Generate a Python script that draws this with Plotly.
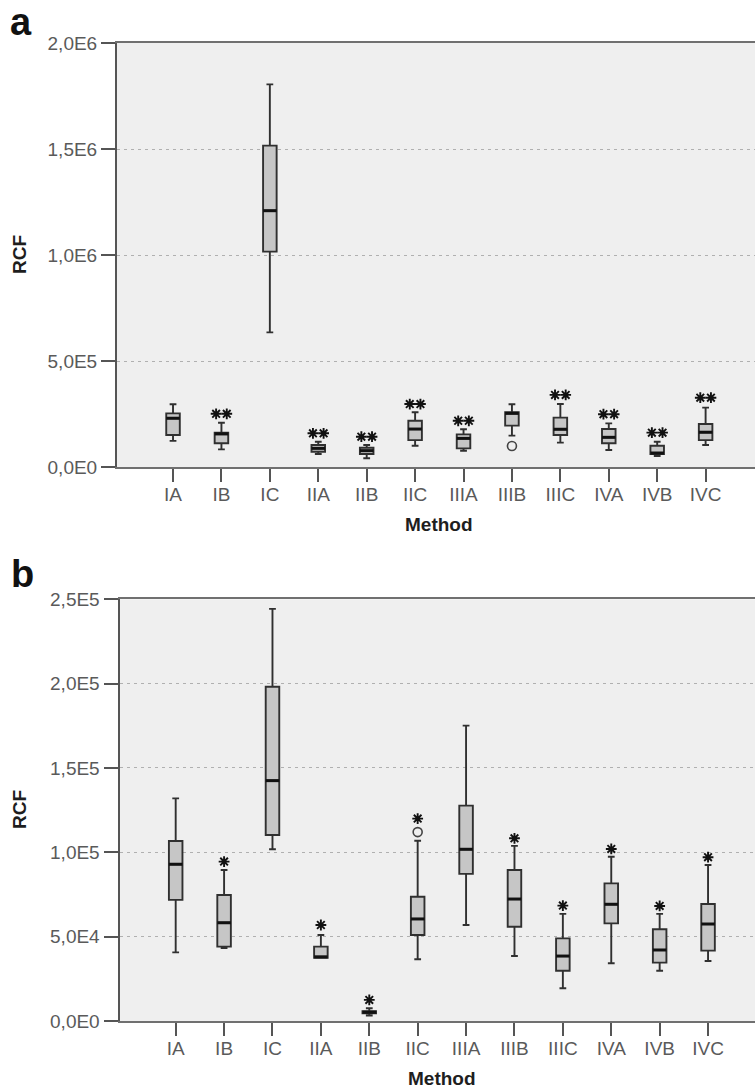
import plotly.graph_objects as go

# ---------------- data ----------------
categories = ["IA", "IB", "IC", "IIA", "IIB", "IIC", "IIIA", "IIIB", "IIIC", "IVA", "IVB", "IVC"]

# Panel a (RCF)
a_low = [123e3, 83e3, 635e3, 61e3, 41e3, 100e3, 77e3, 148e3, 115e3, 80e3, 52e3, 104e3]
a_q1 = [151e3, 112e3, 1016e3, 72e3, 61e3, 127e3, 88e3, 195e3, 151e3, 112e3, 61e3, 127e3]
a_median = [230e3, 156e3, 1209e3, 88e3, 77e3, 179e3, 135e3, 253e3, 178e3, 140e3, 66e3, 164e3]
a_q3 = [253e3, 162e3, 1516e3, 104e3, 91e3, 218e3, 154e3, 258e3, 233e3, 179e3, 100e3, 203e3]
a_high = [296e3, 209e3, 1805e3, 119e3, 104e3, 258e3, 178e3, 296e3, 297e3, 206e3, 119e3, 280e3]
a_extreme_cat = ["IB", "IB", "IIA", "IIA", "IIB", "IIB", "IIC", "IIC", "IIIA", "IIIA",
                 "IIIC", "IIIC", "IVA", "IVA", "IVB", "IVB", "IVC", "IVC"]
a_extreme_val = [251e3, 251e3, 159e3, 159e3, 143e3, 143e3, 297e3, 297e3, 218e3, 218e3,
                 340e3, 340e3, 249e3, 249e3, 162e3, 162e3, 327e3, 327e3]
a_outlier_cat = ["IIIB"]
a_outlier_val = [99e3]
a_yticks = [0, 5e5, 1e6, 1.5e6, 2e6]
a_yticktext = ["0,0E0", "5,0E5", "1,0E6", "1,5E6", "2,0E6"]

# Panel b (RCF)
b_low = [40.7e3, 43.3e3, 101.8e3, 37.5e3, 3.3e3, 36.6e3, 56.9e3, 38.5e3, 19.4e3, 34.2e3, 29.8e3, 35.6e3]
b_q1 = [71.8e3, 44.1e3, 110.3e3, 37.5e3, 4.6e3, 51e3, 87.2e3, 55.9e3, 29.8e3, 57.9e3, 34.6e3, 41.7e3]
b_median = [92.9e3, 58.3e3, 142.5e3, 38e3, 5.2e3, 60.5e3, 101.8e3, 72.3e3, 38.5e3, 69.2e3, 42.1e3, 57.5e3]
b_q3 = [106.7e3, 74.7e3, 198.2e3, 44.1e3, 5.8e3, 73.7e3, 127.7e3, 89.5e3, 49e3, 81.6e3, 54.4e3, 69.4e3]
b_high = [132e3, 89.5e3, 244.3e3, 51e3, 7.6e3, 106.9e3, 175.1e3, 103.8e3, 63.5e3, 97.4e3, 63.5e3, 92.5e3]
b_extreme_cat = ["IB", "IIA", "IIB", "IIC", "IIIB", "IIIC", "IVA", "IVB", "IVC"]
b_extreme_val = [94.5e3, 56.9e3, 12.5e3, 120e3, 108.3e3, 68.4e3, 102e3, 68.2e3, 97.1e3]
b_outlier_cat = ["IIC"]
b_outlier_val = [112e3]
b_yticks = [0, 5e4, 1e5, 1.5e5, 2e5, 2.5e5]
b_yticktext = ["0,0E0", "5,0E4", "1,0E5", "1,5E5", "2,0E5", "2,5E5"]

# ---------------- style ----------------
BOX_W = 0.28
FILL = "#c6c6c6"
BOX_LINE = "#303030"
TICK_FONT = dict(family="Liberation Sans, Arial, sans-serif", size=19, color="#5a5a5a")
pos = {c: i for i, c in enumerate(categories)}

fig = go.Figure()


def add_panel(xa, ya, low, q1, med, q3, high, ext_cat, ext_val, out_cat, out_val):
    xs = list(range(len(categories)))
    fig.add_trace(go.Box(
        x=xs, q1=q1, median=med, q3=q3, lowerfence=low, upperfence=high,
        width=BOX_W, whiskerwidth=0.5, boxpoints=False,
        fillcolor=FILL, line=dict(color=BOX_LINE, width=1.9),
        xaxis=xa, yaxis=ya, showlegend=False, hoverinfo="skip"))
    # thicker median lines
    mx, my = [], []
    for x, m in zip(xs, med):
        mx += [x - BOX_W / 2, x + BOX_W / 2, None]
        my += [m, m, None]
    fig.add_trace(go.Scatter(x=mx, y=my, mode="lines", line=dict(color="#111111", width=3),
                             xaxis=xa, yaxis=ya, showlegend=False, hoverinfo="skip"))
    # extreme values (asterisks); several at one category sit side by side
    counts = {}
    for c in ext_cat:
        counts[c] = counts.get(c, 0) + 1
    seen = {}
    ex, ey = [], []
    for c, v in zip(ext_cat, ext_val):
        k = seen.get(c, 0)
        seen[c] = k + 1
        n = counts[c]
        off = (k - (n - 1) / 2) * 0.22
        ex.append(pos[c] + off)
        ey.append(v)
    fig.add_trace(go.Scatter(x=ex, y=ey, mode="markers",
                             marker=dict(symbol="asterisk-open", size=9, color="#111111",
                                         line=dict(color="#111111", width=1.9)),
                             xaxis=xa, yaxis=ya, showlegend=False, hoverinfo="skip"))
    # outliers (open circles)
    fig.add_trace(go.Scatter(x=[pos[c] for c in out_cat], y=out_val, mode="markers",
                             marker=dict(symbol="circle-open", size=9, color="#444444",
                                         line=dict(color="#444444", width=1.6)),
                             xaxis=xa, yaxis=ya, showlegend=False, hoverinfo="skip"))


add_panel("x", "y", a_low, a_q1, a_median, a_q3, a_high,
          a_extreme_cat, a_extreme_val, a_outlier_cat, a_outlier_val)
add_panel("x2", "y2", b_low, b_q1, b_median, b_q3, b_high,
          b_extreme_cat, b_extreme_val, b_outlier_cat, b_outlier_val)

W, H = 755, 1088


def xaxis(domain_left_px, rng, anchor):
    return dict(domain=[domain_left_px / W, 1], range=rng, anchor=anchor, automargin=False,
                tickmode="array", tickvals=list(range(len(categories))), ticktext=categories,
                ticks="outside", ticklen=13, tickwidth=2, tickcolor="#555555",
                ticklabelstandoff=-4,
                showline=True, linecolor="#707070", linewidth=2, mirror=True,
                showgrid=False, zeroline=False, tickfont=TICK_FONT, fixedrange=True)


def yaxis(top_px, bottom_px, rng, tv, tt, anchor):
    return dict(domain=[1 - bottom_px / H, 1 - top_px / H], range=rng, anchor=anchor,
                automargin=False,
                tickmode="array", tickvals=tv, ticktext=tt,
                ticks="outside", ticklen=14, tickwidth=2, tickcolor="#555555",
                showline=True, linecolor="#555555", linewidth=2,
                showgrid=True, gridcolor="#b0b0b0", gridwidth=1, griddash="3px,4px",
                zeroline=False, tickfont=TICK_FONT, fixedrange=True)


fig.update_layout(
    width=W, height=H, margin=dict(l=0, r=0, t=0, b=0, autoexpand=False),
    paper_bgcolor="white", plot_bgcolor="#efefef",
    xaxis=xaxis(117, [-1.157, 12.02], "y"),
    yaxis=yaxis(43, 467, [0, 2e6], a_yticks, a_yticktext, "x"),
    xaxis2=xaxis(119.5, [-1.161, 11.97], "y2"),
    yaxis2=yaxis(599.3, 1021, [0, 2.5e5], b_yticks, b_yticktext, "x2"),
    showlegend=False,
)

bold = dict(family="Liberation Sans, Arial, sans-serif", size=19, color="#1e1e1e")
panel_font = dict(family="Liberation Sans, Arial, sans-serif", size=38, color="#111111")
ann = [
    dict(text="<b>a</b>", x=21 / W, y=1 - 22 / H, font=panel_font),
    dict(text="<b>b</b>", x=22 / W, y=1 - 574 / H, font=panel_font),
    dict(text="<b>RCF</b>", x=19 / W, y=1 - 255 / H, font=bold, textangle=-90),
    dict(text="<b>RCF</b>", x=19 / W, y=1 - 810 / H, font=bold, textangle=-90),
    dict(text="<b>Method</b>", x=439 / W, y=1 - 524.5 / H, font=bold),
    dict(text="<b>Method</b>", x=442 / W, y=1 - 1078 / H, font=bold),
]
for a in ann:
    fig.add_annotation(xref="paper", yref="paper", showarrow=False,
                       xanchor="center", yanchor="middle", **a)

fig.write_html(
    "out.html",
    config={"displayModeBar": False, "staticPlot": True},
    post_script="document.body.style.margin='0';document.body.style.overflow='hidden';",
)
